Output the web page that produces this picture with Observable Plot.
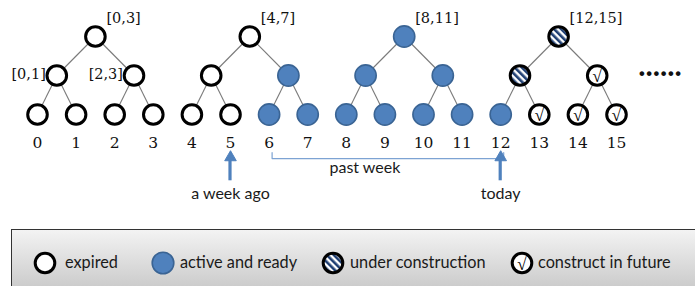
<!DOCTYPE html>
<html><head><meta charset="utf-8">
<script src="https://cdn.jsdelivr.net/npm/d3@7"></script>
<script src="https://cdn.jsdelivr.net/npm/@observablehq/plot@0.6"></script>
<style>
html,body{margin:0;padding:0;background:#fff;overflow:hidden;width:695px;height:286px}
body{position:relative}
#chart svg{display:block}
#legend{position:absolute;left:11px;top:229px;width:720px;height:70px;box-sizing:border-box;border-top:1.5px solid #333;border-left:1.5px solid #333;background:linear-gradient(#f3f3f3,#c3c3c3)}
.key{position:absolute;top:250px;width:26px;height:26px}
.lab{position:absolute;top:250px;height:24px;line-height:24px;font-family:Lato,"Open Sans",sans-serif;font-size:16.3px;color:#1a1a1a;white-space:nowrap}
</style>
</head><body>
<svg width="0" height="0" style="position:absolute">
<defs>
<pattern id="hatch" patternUnits="userSpaceOnUse" width="5" height="5" patternTransform="rotate(-45)">
<rect width="5" height="5" fill="#fff"/><rect width="2.6" height="5" fill="#1f3f73"/>
</pattern>
</defs></svg>
<div id="chart"></div>
<div id="legend"></div>
<script>
// ---- data ----
const leafLabels = ["0","1","2","3","4","5","6","7","8","9","10","11","12","13","14","15"];
const leafState = ["expired","expired","expired","expired","expired","expired","active","active","active","active","active","active","active","future","future","future"];
const level1State = ["expired","expired","expired","active","active","active","construction","future"];
const level1Labels = ["[0,1]","[2,3]"];
const rootState = ["expired","expired","active","construction"];
const rootLabels = ["[0,3]","[4,7]","[8,11]","[12,15]"];
const pastWeek = {from: 6, to: 12, label: "past week"};
const arrowLeaves = [5, 12];
const arrowLabels = ["a week ago", "today"];
const legendKeys = ["expired","active","construction","future"];
const legendLabels = ["expired","active and ready","under construction","construct in future"];

// ---- build tree ----
const nodes = [];
leafState.forEach((s,i)=>nodes.push({x:i, y:0, state:s, label:leafLabels[i]}));
level1State.forEach((s,j)=>nodes.push({x:2*j+0.5, y:1, state:s, label:level1Labels[j]||""}));
rootState.forEach((s,k)=>nodes.push({x:4*k+1.5, y:2, state:s, label:rootLabels[k]}));
const edges = [];
level1State.forEach((s,j)=>{[2*j,2*j+1].forEach(c=>edges.push({x1:2*j+0.5,y1:1,x2:c,y2:0}));});
rootState.forEach((s,k)=>{[2*k,2*k+1].forEach(c=>edges.push({x1:4*k+1.5,y1:2,x2:2*c+0.5,y2:1}));});

const leaves = nodes.filter(d=>d.y===0), lvl1 = nodes.filter(d=>d.y===1), roots = nodes.filter(d=>d.y===2);
const by = s => nodes.filter(d=>d.state===s);
const serif = "'DejaVu Serif', serif";
const sans = "Lato, 'Open Sans', sans-serif";
const blue = "#4f81bd";

// annotation rows in level units (1 level = 39px)
const ROW_BRACKET_TOP = -0.98, ROW_BRACKET = -1.13, ROW_PAST = -1.38;
const ROW_TIP = -1.0, ROW_TAIL = -1.70, ROW_ARROWLAB = -2.03;

const bracket = [
  {x:pastWeek.from, y:ROW_BRACKET_TOP},{x:pastWeek.from, y:ROW_BRACKET},
  {x:pastWeek.to, y:ROW_BRACKET},{x:pastWeek.to, y:ROW_BRACKET_TOP}];
const arrows = arrowLeaves.map((x,i)=>({x, label:arrowLabels[i]}));

const chart = Plot.plot({
  width: 695, height: 229,
  x: {domain:[0,15], range:[37,616], axis:null},
  y: {domain:[0,2], range:[114,36], axis:null},
  marks: [
    Plot.link(edges, {x1:"x1", y1:"y1", x2:"x2", y2:"y2", stroke:"#7a7a7a", strokeWidth:1.1}),
    Plot.dot(by("active"), {x:"x", y:"y", r:10.6, fill:blue, stroke:"#3a6494", strokeWidth:1.6}),
    Plot.dot(by("expired").concat(by("future")), {x:"x", y:"y", r:9.8, fill:"white", stroke:"black", strokeWidth:3}),
    Plot.dot(by("construction"), {x:"x", y:"y", r:9.8, fill:"url(#hatch)", stroke:"black", strokeWidth:3}),
    Plot.text(by("future"), {x:"x", y:"y", text:()=>"√", fontFamily:"'Liberation Serif', serif", fontSize:17, dy:1, fill:"black"}),
    Plot.text(roots, {x:"x", y:"y", text:"label", dx:11, dy:-18, textAnchor:"start", fontFamily:serif, fontSize:14.5, fill:"#111"}),
    Plot.text(lvl1.filter(d=>d.label), {x:"x", y:"y", text:"label", dx:-11, dy:-1, textAnchor:"end", fontFamily:serif, fontSize:14.5, fill:"#111"}),
    Plot.text(leaves, {x:"x", y:"y", text:"label", dy:29, fontFamily:serif, fontSize:15.5, fill:"#111"}),
    Plot.text([{x:leafLabels.length, y:1.1}], {x:"x", y:"y", text:()=>"......", dx:5, dy:-5, fontFamily:"'Liberation Serif', serif", fontWeight:"bold", fontSize:29, fill:"#111"}),
    Plot.line(bracket, {x:"x", y:"y", stroke:"#7da3d3", strokeWidth:1.2, dx:3}),
    Plot.text([pastWeek], {x:d=>(d.from+d.to)/2, y:()=>ROW_PAST, text:"label", dx:-20, fontFamily:sans, fontSize:16, fill:"#1a1a1a"}),
    Plot.ruleX(arrows, {x:"x", y1:()=>ROW_TIP-0.12, y2:()=>ROW_TAIL, stroke:blue, strokeWidth:3.2, dx:d=>0}),
    Plot.dot(arrows, {x:"x", y:()=>ROW_TIP-0.1, symbol:"triangle", r:4.3, fill:blue, stroke:blue, strokeWidth:1}),
    Plot.text(arrows, {x:"x", y:()=>ROW_ARROWLAB, text:"label", fontFamily:sans, fontSize:16, fill:"#1a1a1a"})
  ]
});
document.getElementById("chart").append(chart);

// ---- legend ----
const keyStyle = {
  expired: {fill:"white", stroke:"black", sw:3, r:9.8},
  active: {fill:blue, stroke:"#3a6494", sw:1.6, r:10.8},
  construction: {fill:"url(#hatch)", stroke:"black", sw:3, r:9.8},
  future: {fill:"white", stroke:"black", sw:3, r:9.8}
};
const keyX = [32, 150, 320, 509];
const labX = [65, 180, 350, 538];
legendKeys.forEach((k,i)=>{
  const s = keyStyle[k];
  const svg = document.createElementNS("http://www.w3.org/2000/svg","svg");
  svg.setAttribute("class","key"); svg.setAttribute("width",26); svg.setAttribute("height",26);
  svg.style.left = keyX[i]+"px";
  svg.innerHTML = `<circle cx="13" cy="13" r="${s.r}" fill="${s.fill}" stroke="${s.stroke}" stroke-width="${s.sw}"/>` +
    (k==="future" ? `<text x="13" y="14" dy="0.35em" text-anchor="middle" font-family="Liberation Serif" font-size="17">√</text>` : "");
  document.body.append(svg);
  const t = document.createElement("div");
  t.className = "lab"; t.style.left = labX[i]+"px"; t.textContent = legendLabels[i];
  document.body.append(t);
});
</script>
</body></html>
